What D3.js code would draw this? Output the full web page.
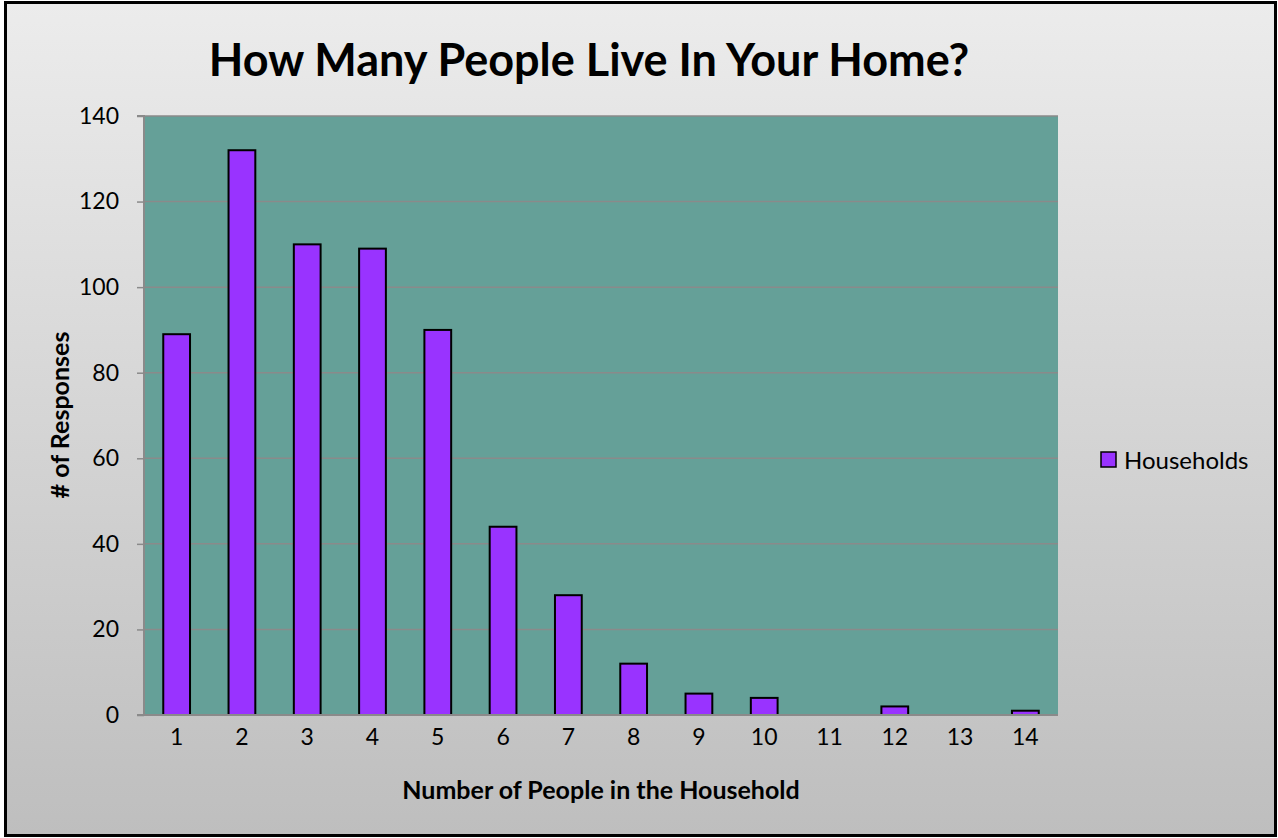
<!DOCTYPE html>
<html><head><meta charset="utf-8">
<script src="https://cdn.jsdelivr.net/npm/d3@7"></script>
<style>body{margin:0;padding:0;overflow:hidden;background:#fff}</style>
</head><body>
<svg id="chart" width="1278" height="838"></svg>
<script>
const categories = ["1","2","3","4","5","6","7","8","9","10","11","12","13","14"];
const households = [89,132,110,109,90,44,28,12,5,4,0,2,0,1];
const yTicks = [0,20,40,60,80,100,120,140];
const seriesName = "Households";
const titleText = "How Many People Live In Your Home?";
const xTitle = "Number of People in the Household";
const yTitle = "# of Responses";

const svg = d3.select("#chart");
const W = 1278, H = 838;
const font = "Lato, 'Open Sans', sans-serif";
const defs = svg.append("defs");
const g = defs.append("linearGradient").attr("id","bg").attr("x1",0).attr("y1",0).attr("x2",0).attr("y2",1);
g.append("stop").attr("offset","0%").attr("stop-color","#ececec");
g.append("stop").attr("offset","100%").attr("stop-color","#bebebe");
svg.append("rect").attr("x",5.5).attr("y",2.5).attr("width",W-8).attr("height",H-5)
  .attr("fill","url(#bg)").attr("stroke","#000").attr("stroke-width",3);

const m = {left:144, top:116, right:1058, bottom:715};
const x = d3.scaleBand().domain(categories).range([m.left,m.right]).paddingInner(0.59).paddingOuter(0.295);
const y = d3.scaleLinear().domain([0,140]).range([m.bottom,m.top]);

svg.append("rect").attr("x",m.left).attr("y",m.top).attr("width",m.right-m.left).attr("height",m.bottom-m.top).attr("fill","#65a098");

// gridlines
svg.append("g").selectAll("line").data(yTicks.filter(d=>d>0)).join("line")
  .attr("x1",m.left).attr("x2",m.right).attr("y1",d=>y(d)).attr("y2",d=>y(d))
  .attr("stroke","#8a8a8a").attr("stroke-width",1.5);

// bars
const barData = households.map((v,i)=>({c:categories[i],v})).filter(d=>d.v>0);
svg.append("g").selectAll("rect").data(barData).join("rect")
  .attr("x",d=>x(d.c)).attr("y",d=>y(d.v)).attr("width",x.bandwidth()).attr("height",d=>y(0)-y(d.v))
  .attr("fill","#9933ff").attr("stroke","#000").attr("stroke-width",2);

// y axis
const ya = svg.append("g").attr("transform",`translate(${m.left},0)`)
  .call(d3.axisLeft(y).tickValues(yTicks).tickSize(7).tickPadding(18).tickFormat(d3.format("d")));
ya.select(".domain").attr("stroke","#8a8a8a").attr("stroke-width",2).attr("d",`M-7,${m.top}H0V${m.bottom}`);
ya.selectAll(".tick line").attr("stroke","#8a8a8a").attr("stroke-width",1.5);
ya.selectAll("text").attr("font-family",font).attr("font-size",23).attr("fill","#000");

// x axis
const xa = svg.append("g").attr("transform",`translate(0,${m.bottom})`)
  .call(d3.axisBottom(x).tickSize(0).tickPadding(14));
xa.select(".domain").attr("stroke","#8a8a8a").attr("stroke-width",2).attr("d",`M${m.left-7},0H${m.right}`);
xa.selectAll("text").attr("font-family",font).attr("font-size",23).attr("fill","#000");

// titles
svg.append("text").attr("x",589).attr("y",76).attr("text-anchor","middle")
  .attr("font-family",font).attr("font-weight","bold").attr("font-size",45).attr("fill","#000").text(titleText);
svg.append("text").attr("x",601).attr("y",799).attr("text-anchor","middle")
  .attr("font-family",font).attr("font-weight","bold").attr("font-size",25).attr("fill","#000").text(xTitle);
svg.append("text").attr("transform","translate(69,415) rotate(-90)").attr("text-anchor","middle")
  .attr("font-family",font).attr("font-weight","bold").attr("font-size",25).attr("fill","#000").text(yTitle);

// legend
const lg = svg.append("g").attr("transform","translate(1101,461)");
lg.append("rect").attr("x",0).attr("y",-9).attr("width",15).attr("height",15).attr("fill","#9933ff").attr("stroke","#000").attr("stroke-width",1.5);
lg.append("text").attr("x",23).attr("y",7.5).attr("font-family",font).attr("font-size",24).attr("fill","#000").text(seriesName);
</script>
</body></html>
